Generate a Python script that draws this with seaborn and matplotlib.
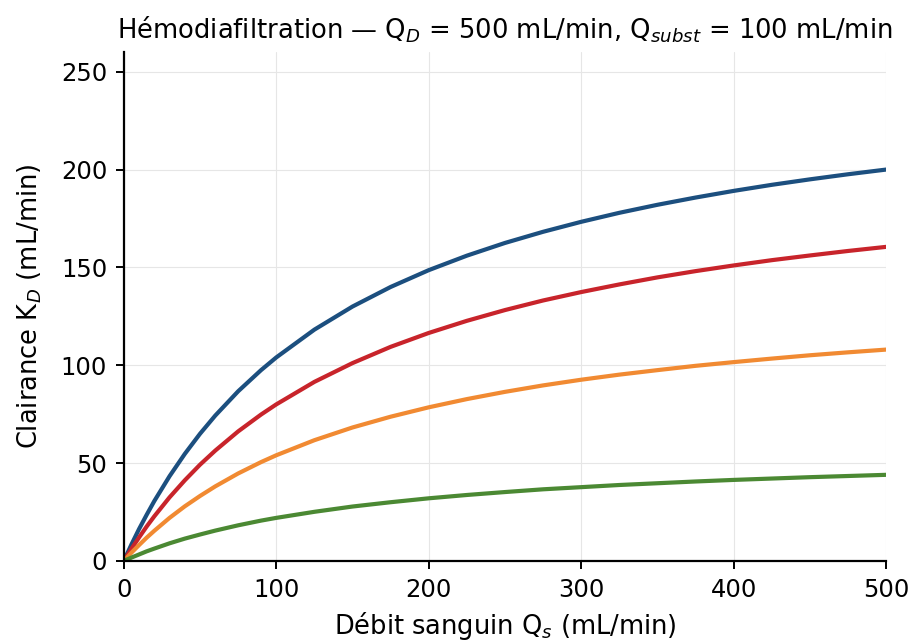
import pandas as pd
import seaborn as sns
import matplotlib.pyplot as plt

# débit sanguin (mL/min) and clairances
qs = [0, 5, 10, 15, 20, 30, 40, 50, 60, 75, 90, 100, 125, 150, 175, 200,
      225, 250, 275, 300, 325, 350, 375, 400, 425, 450, 475, 500]
k_blue = [0, 8.4, 16.3, 23.6, 30.6, 43.3, 54.7, 65.0, 74.3, 86.7, 97.5, 104.0, 118.2, 130.0, 140.0, 148.6,
          156.0, 162.5, 168.2, 173.3, 177.9, 182.0, 185.7, 189.1, 192.2, 195.0, 197.6, 200.0]
k_red = [0, 6.2, 12.0, 17.6, 22.8, 32.5, 41.2, 49.2, 56.4, 66.2, 74.8, 80.0, 91.5, 101.1, 109.4, 116.5,
         122.7, 128.2, 133.1, 137.4, 141.3, 144.9, 148.1, 151.0, 153.7, 156.1, 158.4, 160.5]
k_orange = [0, 4.2, 8.1, 11.9, 15.4, 22.0, 27.9, 33.2, 38.1, 44.7, 50.5, 54.0, 61.7, 68.2, 73.7, 78.5,
            82.7, 86.4, 89.7, 92.6, 95.2, 97.5, 99.7, 101.6, 103.4, 105.1, 106.6, 108.0]
k_green = [0, 1.7, 3.3, 4.9, 6.3, 9.0, 11.4, 13.5, 15.5, 18.2, 20.6, 22.0, 25.1, 27.8, 30.0, 32.0,
           33.7, 35.2, 36.6, 37.7, 38.8, 39.7, 40.6, 41.4, 42.1, 42.8, 43.4, 44.0]

series = {"a": k_blue, "b": k_red, "c": k_orange, "d": k_green}
colors = {"a": "#1c4f7f", "b": "#c8242b", "c": "#f18a32", "d": "#4b8933"}

rows = []
for name, vals in series.items():
    for q, k in zip(qs, vals):
        rows.append({"qs": q, "kd": k, "serie": name})
df = pd.DataFrame(rows)

sns.set_style("white")
plt.rcParams['font.family'] = ['DejaVu Sans']
plt.rcParams['text.color'] = 'black'
plt.rcParams['axes.labelcolor'] = 'black'
plt.rcParams['xtick.color'] = 'black'
plt.rcParams['ytick.color'] = 'black'

fig = plt.figure(figsize=(9.24, 6.44), dpi=100)
ax = fig.add_axes([0.134, 0.129, 0.825, 0.790])

sns.lineplot(data=df, x="qs", y="kd", hue="serie", palette=colors,
             linewidth=3.0, legend=False, ax=ax)

ax.set_xlim(0, 500)
ax.set_ylim(0, 260)
ax.set_xticks([0, 100, 200, 300, 400, 500])
ax.set_yticks([0, 50, 100, 150, 200, 250])
ax.grid(True, color="#e6e6e6", linewidth=0.8)
ax.set_axisbelow(True)

for s in ["top", "right"]:
    ax.spines[s].set_visible(False)
for s in ["left", "bottom"]:
    ax.spines[s].set_color("black")
    ax.spines[s].set_linewidth(1.6)

ax.tick_params(axis="both", labelsize=17.5, length=6, width=1.4, color="black",
               labelcolor="black", direction="out", bottom=True, left=True, pad=6)

ax.set_xlabel("Débit sanguin Q$_s$ (mL/min)", fontsize=18.5, color="black", labelpad=6)
ax.set_ylabel("Clairance K$_D$ (mL/min)", fontsize=18.5, color="black", labelpad=12)
ax.set_title("Hémodiafiltration — Q$_D$ = 500 mL/min, Q$_{subst}$ = 100 mL/min",
             fontsize=18.6, color="black", pad=10)

fig.savefig("out.png", dpi=100)
